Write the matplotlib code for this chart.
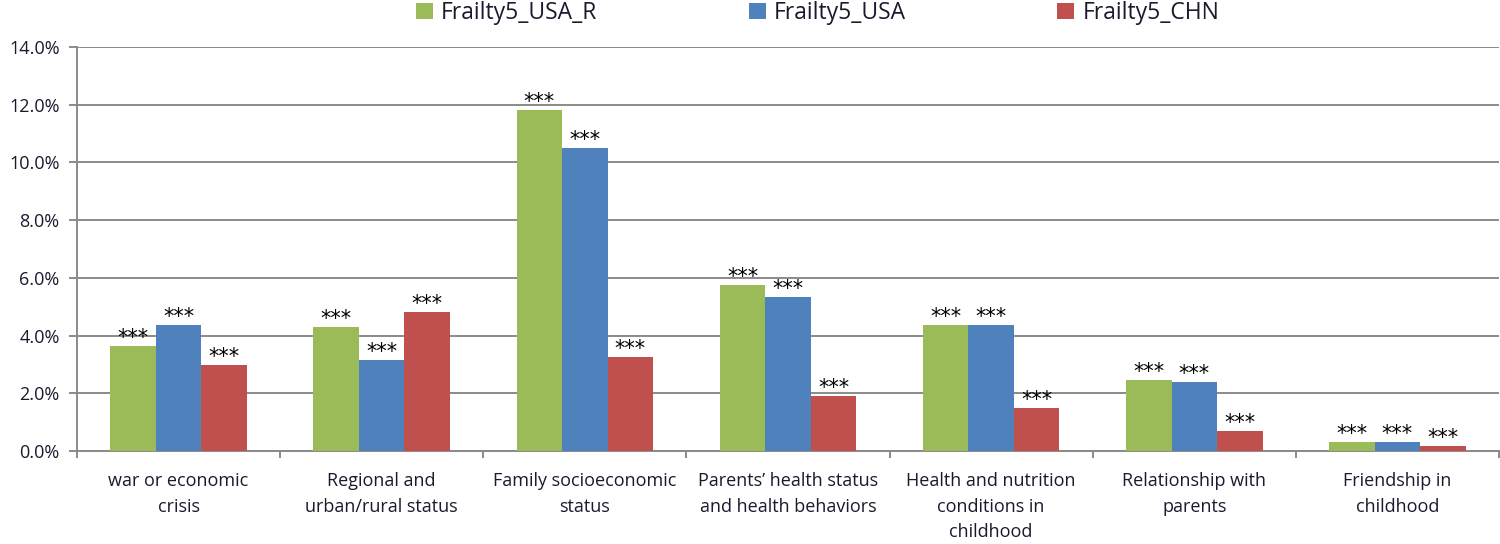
import numpy as np
import matplotlib
matplotlib.use("Agg")
import matplotlib.pyplot as plt
from matplotlib.ticker import PercentFormatter, FixedLocator

plt.rcParams['font.family'] = ['Open Sans', 'DejaVu Sans']

# data (share, in %)
categories = [
    "war or economic\ncrisis",
    "Regional and\nurban/rural status",
    "Family socioeconomic\nstatus",
    "Parents\u2019 health status\nand health behaviors",
    "Health and nutrition\nconditions in\nchildhood",
    "Relationship with\nparents",
    "Friendship in\nchildhood",
]
usa_r = [3.63, 4.31, 11.82, 5.75, 4.37, 2.46, 0.32]
usa = [4.37, 3.15, 10.49, 5.33, 4.36, 2.39, 0.30]
chn = [2.98, 4.83, 3.26, 1.91, 1.48, 0.69, 0.18]
series_names = ["Frailty5_USA_R", "Frailty5_USA", "Frailty5_CHN"]
stars = "***"

colors = ["#9BBB59", "#4F81BD", "#C0504D"]
grid_col = "#8a8a8a"
text_col = "#1a1a2e"

fig = plt.figure(figsize=(15, 5.44), dpi=100)
ax = fig.add_axes([77 / 1500, 1 - 451 / 544, 1422 / 1500, 404 / 544])

x = np.arange(len(categories))
w = 0.224
for i, (vals, c, name) in enumerate(zip([usa_r, usa, chn], colors, series_names)):
    pos = x + (i - 1) * w
    bars = ax.bar(pos, vals, w, color=c, label=name, zorder=3)
    for b in bars:
        ax.annotate(stars, (b.get_x() + b.get_width() / 2, b.get_height()),
                    xytext=(0, 1.5), textcoords="offset points",
                    ha="center", va="baseline", fontsize=15, color="black",
                    family="DejaVu Sans", zorder=4)

ax.set_xlim(-0.5, len(categories) - 0.5)
ax.set_ylim(0, 14)
ax.set_yticks(np.arange(0, 14.1, 2))
ax.yaxis.set_major_formatter(PercentFormatter(decimals=1))
ax.yaxis.grid(True, color=grid_col, linewidth=1.4, zorder=0)

ax.set_xticks(x)
ax.set_xticklabels(categories, fontsize=13, linespacing=1.55, color=text_col)
ax.xaxis.set_minor_locator(FixedLocator(np.arange(-0.5, len(categories), 1)))
ax.tick_params(axis='x', which='major', length=0, pad=15)
ax.tick_params(axis='x', which='minor', length=5, width=1.4, color=grid_col)
ax.tick_params(axis='y', length=5.5, width=1.4, color=grid_col, pad=7,
               labelsize=13, labelcolor=text_col)

for s in ['top', 'right']:
    ax.spines[s].set_visible(False)
for s in ['left', 'bottom']:
    ax.spines[s].set_color(grid_col)
    ax.spines[s].set_linewidth(1.4)

leg = fig.legend(loc='center', bbox_to_anchor=(0.545, 0.976), ncol=3, frameon=False,
                 fontsize=16.5, handlelength=0.75, handleheight=0.75, handletextpad=0.35,
                 columnspacing=6.6, borderaxespad=0)
for t in leg.get_texts():
    t.set_color(text_col)

fig.savefig("out.png", dpi=100)
